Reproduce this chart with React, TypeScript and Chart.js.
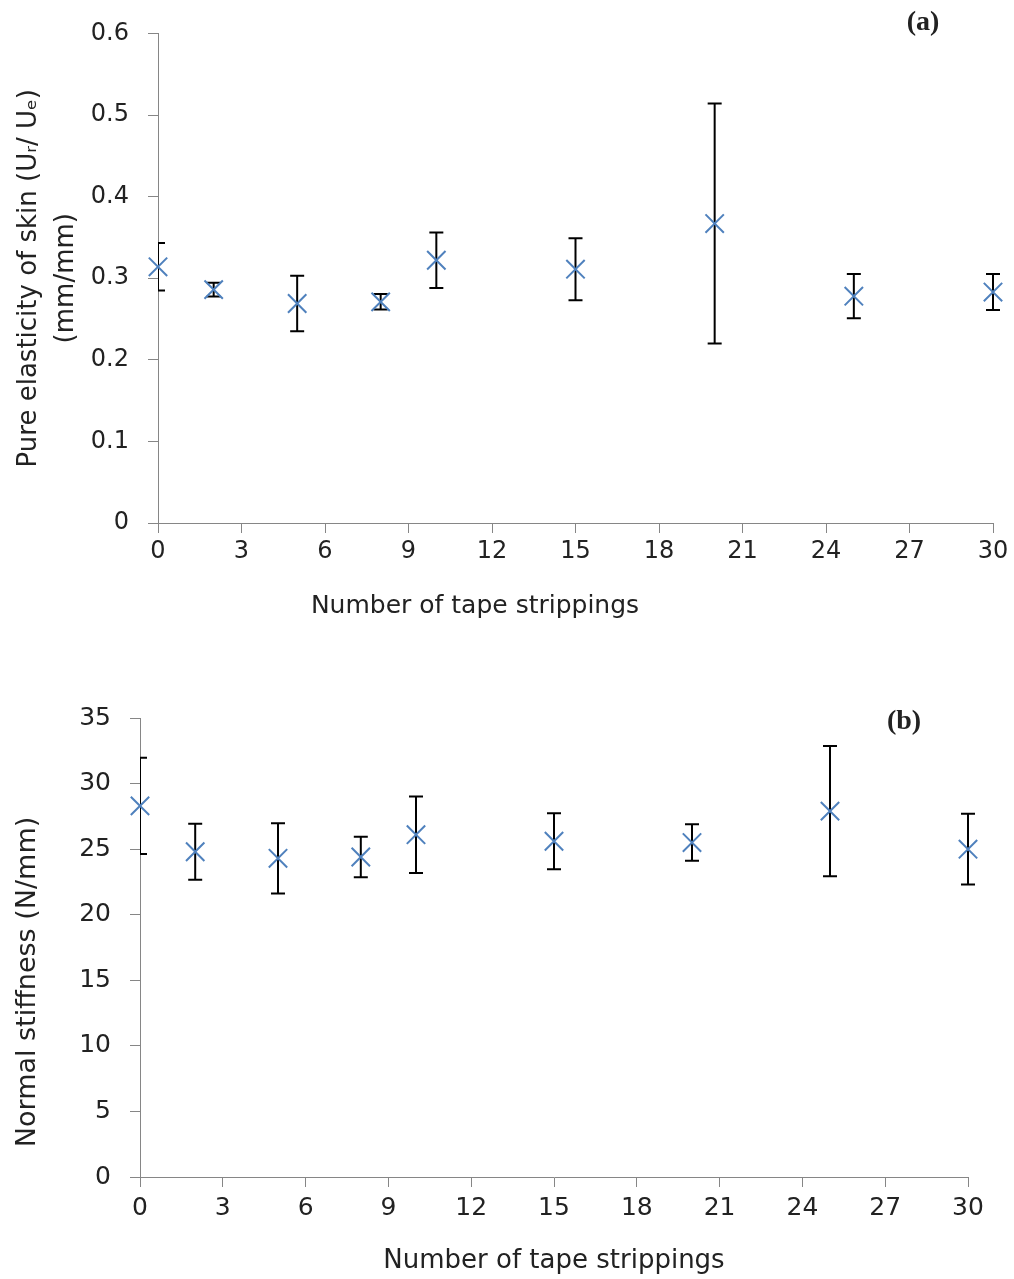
import React, { useEffect, useRef } from 'react';
import { Chart, registerables } from 'chart.js';

Chart.register(...registerables);

// ---------- data ----------
const strippings = [0, 2, 5, 8, 10, 15, 20, 25, 30];

const elasticityMean = [0.314, 0.286, 0.269, 0.271, 0.322, 0.311, 0.367, 0.278, 0.283];
const elasticitySd = [0.029, 0.0085, 0.034, 0.0095, 0.034, 0.038, 0.147, 0.027, 0.022];

const stiffnessMean = [28.3, 24.8, 24.3, 24.4, 26.1, 25.6, 25.5, 27.9, 25.0];
const stiffnessSd = [3.67, 2.13, 2.68, 1.55, 2.91, 2.13, 1.39, 4.97, 2.7];

const xMin = 0;
const xMax = 30;
const xStep = 3;
const elasticityAxis = { min: 0, max: 0.6, step: 0.1 };
const stiffnessAxis = { min: 0, max: 35, step: 5 };

const xTitle = 'Number of tape strippings';
const elasticityTitle = ['Pure elasticity of skin (U\u1D63/ U\u2091)', '(mm/mm)'];
const stiffnessTitle = 'Normal stiffness (N/mm)';
const panelA = '(a)';
const panelB = '(b)';

// ---------- styles ----------
const FONT = "'DejaVu Sans', sans-serif";
const TEXT = '#222222';
const AXIS = '#868686';
const MARK = '#4F81BD';

// ---------- plugins ----------
const errorBarPlugin = {
  id: 'errorBars',
  beforeDatasetsDraw(chart: any, _args: any, opts: any) {
    const { ctx, chartArea, scales } = chart;
    const xs = scales.x;
    const ys = scales.y;
    const cap = opts.cap ?? 7;
    ctx.save();
    ctx.beginPath();
    ctx.rect(chartArea.left, 0, chartArea.right - chartArea.left + 10, chart.height);
    ctx.clip();
    ctx.strokeStyle = opts.color || '#000';
    ctx.lineWidth = opts.width || 2;
    chart.data.datasets.forEach((ds: any) => {
      (ds.data as any[]).forEach((pt: any, i: number) => {
        const e = ds.errors[i];
        const px = xs.getPixelForValue(pt.x);
        const top = ys.getPixelForValue(pt.y + e);
        const bot = ys.getPixelForValue(pt.y - e);
        ctx.beginPath();
        ctx.moveTo(px, top);
        ctx.lineTo(px, bot);
        ctx.moveTo(px - cap, top);
        ctx.lineTo(px + cap, top);
        ctx.moveTo(px - cap, bot);
        ctx.lineTo(px + cap, bot);
        ctx.stroke();
      });
    });
    ctx.restore();
  },
};

const notesPlugin = {
  id: 'notes',
  afterDraw(chart: any, _args: any, opts: any) {
    const { ctx, chartArea } = chart;
    (opts.items || []).forEach((n: any) => {
      ctx.save();
      ctx.font = n.font;
      ctx.fillStyle = n.color || TEXT;
      ctx.textAlign = 'center';
      ctx.textBaseline = 'middle';
      ctx.translate(chartArea.left + n.dx, chartArea.top + n.dy);
      if (n.rotate) ctx.rotate(n.rotate);
      ctx.fillText(n.text, 0, 0);
      ctx.restore();
    });
  },
};

// ---------- chart builder ----------
type PanelSpec = {
  width: number;
  height: number;
  mean: number[];
  sd: number[];
  yAxis: { min: number; max: number; step: number };
  padTop: number;
  padRight: number;
  yWidth: number;
  xHeight: number;
  tickSize: number;
  yTickPad: number;
  xTickPad: number;
  yTitle: any;
  xTitleShown: boolean;
  notes: any[];
};

function buildConfig(p: PanelSpec): any {
  const points = strippings.map((x, i) => ({ x, y: p.mean[i] }));
  return {
    type: 'scatter',
    data: {
      datasets: [
        {
          data: points,
          errors: p.sd,
          pointStyle: 'crossRot',
          pointRadius: 13,
          pointHoverRadius: 13,
          pointBorderWidth: 2,
          borderColor: MARK,
          backgroundColor: MARK,
          showLine: false,
          clip: false,
        },
      ],
    },
    options: {
      responsive: false,
      animation: false,
      events: [],
      layout: { padding: { top: p.padTop, right: p.padRight, left: 0, bottom: 0 } },
      plugins: {
        legend: { display: false },
        tooltip: { enabled: false },
        errorBars: { color: '#000000', width: 2, cap: 7 },
        notes: { items: p.notes },
      },
      scales: {
        x: {
          type: 'linear',
          min: xMin,
          max: xMax,
          afterFit: (s: any) => {
            s.height = p.xHeight;
          },
          ticks: {
            stepSize: xStep,
            color: TEXT,
            padding: p.xTickPad,
            maxRotation: 0,
            font: { family: FONT, size: p.tickSize },
          },
          grid: {
            display: true,
            drawOnChartArea: false,
            drawTicks: true,
            tickLength: 10,
            color: AXIS,
            tickColor: AXIS,
          },
          border: { display: true, color: AXIS, width: 1 },
          title: {
            display: p.xTitleShown,
            text: xTitle,
            color: TEXT,
            font: { family: FONT, size: 26, lineHeight: 1.2 },
            padding: { top: 0, bottom: 2 },
          },
        },
        y: {
          type: 'linear',
          min: p.yAxis.min,
          max: p.yAxis.max,
          afterFit: (s: any) => {
            s.width = p.yWidth;
          },
          ticks: {
            stepSize: p.yAxis.step,
            color: TEXT,
            padding: p.yTickPad,
            font: { family: FONT, size: p.tickSize },
          },
          grid: {
            display: true,
            drawOnChartArea: false,
            drawTicks: true,
            tickLength: 10,
            color: AXIS,
            tickColor: AXIS,
          },
          border: { display: true, color: AXIS, width: 1 },
          title: p.yTitle,
        },
      },
    },
    plugins: [errorBarPlugin, notesPlugin],
  };
}

function Panel({ spec, top }: { spec: PanelSpec; top: number }) {
  const ref = useRef<HTMLCanvasElement | null>(null);
  useEffect(() => {
    if (!ref.current) return;
    const chart = new Chart(ref.current, buildConfig(spec));
    return () => chart.destroy();
  }, []);
  return (
    <canvas
      ref={ref}
      width={spec.width}
      height={spec.height}
      style={{ position: 'absolute', left: 0, top, width: spec.width, height: spec.height }}
    />
  );
}

const topSpec: PanelSpec = {
  width: 1014,
  height: 640,
  mean: elasticityMean,
  sd: elasticitySd,
  yAxis: elasticityAxis,
  padTop: 33,
  padRight: 21,
  yWidth: 158,
  xHeight: 117,
  tickSize: 24,
  yTickPad: 19,
  xTickPad: 4,
  yTitle: {
    display: true,
    text: elasticityTitle,
    color: TEXT,
    font: { family: FONT, size: 26, lineHeight: 1.45 },
    padding: { top: 10, bottom: 0 },
  },
  xTitleShown: false,
  notes: [
    { text: xTitle, font: `25px ${FONT}`, dx: 317, dy: 573 },
    { text: panelA, font: `bold 28px 'Liberation Serif', serif`, dx: 765, dy: -11 },
  ],
};

const bottomSpec: PanelSpec = {
  width: 1014,
  height: 639,
  mean: stiffnessMean,
  sd: stiffnessSd,
  yAxis: stiffnessAxis,
  padTop: 78,
  padRight: 46,
  yWidth: 140,
  xHeight: 102,
  tickSize: 25,
  yTickPad: 19,
  xTickPad: 6,
  yTitle: { display: false, text: '' },
  xTitleShown: true,
  notes: [
    { text: stiffnessTitle, font: `27px ${FONT}`, dx: -112, dy: 264, rotate: -Math.PI / 2 },
    { text: panelB, font: `bold 28px 'Liberation Serif', serif`, dx: 764, dy: 4 },
  ],
};

export default function App() {
  return (
    <div style={{ position: 'absolute', left: 0, top: 0, width: 1014, height: 1279, background: '#ffffff' }}>
      <Panel spec={topSpec} top={0} />
      <Panel spec={bottomSpec} top={640} />
    </div>
  );
}
